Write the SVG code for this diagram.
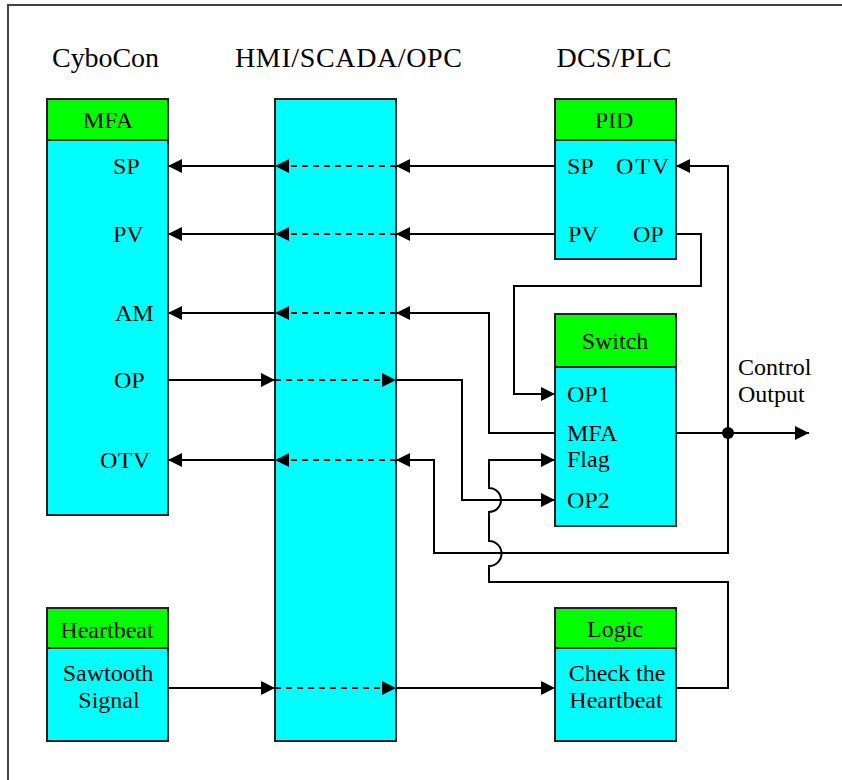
<svg xmlns="http://www.w3.org/2000/svg" width="842" height="780" viewBox="0 0 842 780" font-family="'Liberation Serif', 'DejaVu Serif', serif">
<style>
text{font-family:'Liberation Serif','DejaVu Serif',serif;fill:#000}
.ti{font-size:28px}
.lb{font-size:24px}
.c{text-anchor:middle}
.hd{fill:#00ff00;stroke:#222;stroke-width:2}
.bd{fill:#00ffff;stroke:#222;stroke-width:2}
.ln{fill:none;stroke:#000;stroke-width:2}
.ds{fill:none;stroke:#000;stroke-width:2;stroke-dasharray:6 5}
</style>
<defs>
<marker id="ar" markerUnits="userSpaceOnUse" markerWidth="15" markerHeight="15" refX="14" refY="7" orient="auto" viewBox="0 0 15 15">
<path d="M0,0 L14,7 L0,14 z" fill="#000"/>
</marker>
</defs>
<rect width="842" height="780" fill="#fff"/>
<path d="M8,790 V5 H850" fill="none" stroke="#444" stroke-width="2"/>

<g id="titles">
<text class="ti c" x="105.5" y="67" textLength="107" lengthAdjust="spacing">CyboCon</text>
<text class="ti c" x="348.5" y="67" textLength="227" lengthAdjust="spacing">HMI/SCADA/OPC</text>
<text class="ti c" x="614" y="67" textLength="115" lengthAdjust="spacing">DCS/PLC</text>
</g>

<g id="mfa">
<rect class="hd" x="47" y="99" width="121" height="41"/>
<rect class="bd" x="47" y="140" width="121" height="375"/>
<text class="lb c" x="108" y="128">MFA</text>
<text class="lb" x="113" y="174">SP</text>
<text class="lb" x="113" y="242">PV</text>
<text class="lb" x="115" y="321">AM</text>
<text class="lb" x="114" y="388">OP</text>
<text class="lb" x="100" y="468" textLength="50" lengthAdjust="spacing">OTV</text>
</g>

<g id="hmi">
<rect class="bd" x="275" y="99" width="121" height="642"/>
</g>

<g id="pid">
<rect class="hd" x="555" y="99" width="121" height="41"/>
<rect class="bd" x="555" y="140" width="121" height="119"/>
<text class="lb c" x="614" y="128">PID</text>
<text class="lb" x="567" y="174">SP</text>
<text class="lb" x="616" y="174" textLength="53" lengthAdjust="spacing">OTV</text>
<text class="lb" x="568" y="242">PV</text>
<text class="lb" x="633" y="242">OP</text>
</g>

<g id="switch">
<rect class="hd" x="555" y="314" width="121" height="53"/>
<rect class="bd" x="555" y="367" width="121" height="159"/>
<text class="lb c" x="615" y="349">Switch</text>
<text class="lb" x="567" y="402">OP1</text>
<text class="lb" x="567" y="441">MFA</text>
<text class="lb" x="567" y="467">Flag</text>
<text class="lb" x="567" y="508">OP2</text>
</g>

<g id="heartbeat">
<rect class="hd" x="47" y="608" width="121" height="40"/>
<rect class="bd" x="47" y="648" width="121" height="93"/>
<text class="lb c" x="107" y="638">Heartbeat</text>
<text class="lb c" x="108" y="681">Sawtooth</text>
<text class="lb c" x="109" y="708">Signal</text>
</g>

<g id="logic">
<rect class="hd" x="555" y="608" width="121" height="40"/>
<rect class="bd" x="555" y="648" width="121" height="93"/>
<text class="lb c" x="615" y="637">Logic</text>
<text class="lb c" x="617" y="681">Check the</text>
<text class="lb c" x="616" y="708">Heartbeat</text>
</g>

<g id="control-output-label">
<text class="lb" x="738" y="375">Control</text>
<text class="lb" x="738" y="402">Output</text>
</g>

<g id="connectors">
<path class="ln" d="M555,166 H396" marker-end="url(#ar)"/>
<path class="ds" d="M396,166 H275" marker-end="url(#ar)"/>
<path class="ln" d="M275,166 H168" marker-end="url(#ar)"/>
<path class="ln" d="M555,234 H396" marker-end="url(#ar)"/>
<path class="ds" d="M396,234 H275" marker-end="url(#ar)"/>
<path class="ln" d="M275,234 H168" marker-end="url(#ar)"/>
<path class="ln" d="M555,433 H489 V313 H396" marker-end="url(#ar)"/>
<path class="ds" d="M396,313 H275" marker-end="url(#ar)"/>
<path class="ln" d="M275,313 H168" marker-end="url(#ar)"/>
<path class="ln" d="M168,380 H275" marker-end="url(#ar)"/>
<path class="ds" d="M275,380 H396" marker-end="url(#ar)"/>
<path class="ln" d="M396,380 H462 V500 H555" marker-end="url(#ar)"/>
<path class="ln" d="M676,234 H701 V286 H514 V394 H555" marker-end="url(#ar)"/>
<path class="ln" d="M676,433 H809" marker-end="url(#ar)"/>
<path class="ln" d="M728,433 V166 H676" marker-end="url(#ar)"/>
<path class="ln" d="M728,433 V553 H434 V460 H396" marker-end="url(#ar)"/>
<path class="ds" d="M396,460 H275" marker-end="url(#ar)"/>
<path class="ln" d="M275,460 H168" marker-end="url(#ar)"/>
<circle cx="728" cy="433" r="6" fill="#000"/>
<path class="ln" d="M168,688 H275" marker-end="url(#ar)"/>
<path class="ds" d="M275,688 H396" marker-end="url(#ar)"/>
<path class="ln" d="M396,688 H555" marker-end="url(#ar)"/>
<path class="ln" d="M676,688 H728 V582 H489 V566 A12.5,12.5 0 0 0 489,541 V512 A12,12 0 0 0 489,488 V460 H555" marker-end="url(#ar)"/>
</g>
</svg>
